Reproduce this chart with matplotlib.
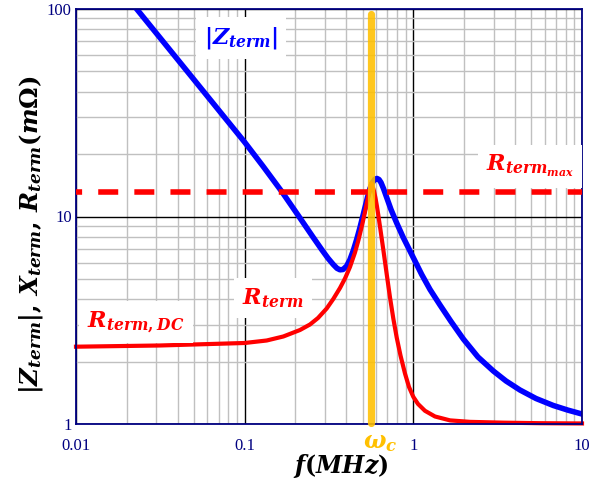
import matplotlib
matplotlib.use("Agg")
import matplotlib.pyplot as plt
from matplotlib.ticker import LogLocator, NullFormatter, FixedLocator

plt.rcParams["font.family"] = "Liberation Serif"
plt.rcParams["mathtext.fontset"] = "custom"
plt.rcParams["mathtext.rm"] = "DejaVu Serif:bold"
plt.rcParams["mathtext.it"] = "DejaVu Serif:italic:bold"
plt.rcParams["mathtext.bf"] = "DejaVu Serif:bold"

# |Z_term| (mOhm) vs f (MHz)
f_z = [0.021, 0.0229, 0.0998, 0.1284, 0.1658, 0.2079, 0.2552, 0.2874, 0.3119,
       0.3352, 0.3527, 0.3674, 0.3828, 0.4026, 0.4211, 0.4406, 0.4615, 0.4827,
       0.4995, 0.5168, 0.5348, 0.5533, 0.5725, 0.5924, 0.6088, 0.6257, 0.6430,
       0.6653, 0.6950, 0.7370, 0.7968, 0.8684, 0.9554, 1.121, 1.256, 1.439,
       1.673, 1.979, 2.417, 2.980, 3.543, 4.289, 5.336, 6.758, 8.261, 10.0]
z_mag = [109, 100, 22.86, 17.48, 13.20, 10.11, 7.921, 6.896, 6.295,
         5.871, 5.628, 5.535, 5.554, 5.774, 6.205, 6.858, 7.748, 8.851,
         9.890, 11.05, 12.35, 13.64, 14.58, 15.13, 15.25, 15.08, 14.58,
         13.64, 12.35, 10.81, 9.304, 7.965, 6.820, 5.254, 4.448, 3.746,
         3.118, 2.568, 2.103, 1.801, 1.612, 1.458, 1.327, 1.228, 1.166, 1.117]

# R_term (mOhm) vs f (MHz)
f_r = [0.01, 0.0315, 0.1, 0.1351, 0.1695, 0.2128, 0.2439, 0.2721, 0.3064,
       0.3352, 0.3674, 0.3934, 0.4211, 0.4509, 0.4729, 0.4961, 0.5168, 0.5348,
       0.5481, 0.5556, 0.5632, 0.5725, 0.5844, 0.5965, 0.6088, 0.6197, 0.6386,
       0.6635, 0.6950, 0.7273, 0.7608, 0.7968, 0.8393, 0.8924, 0.9425, 1.0,
       1.066, 1.172, 1.344, 1.650, 2.167, 3.415, 5.635, 10.0]
r_term = [2.358, 2.390, 2.457, 2.526, 2.641, 2.838, 3.017, 3.242, 3.603,
          4.003, 4.523, 5.026, 5.710, 6.707, 7.705, 9.049, 10.51, 12.01,
          13.20, 13.95, 14.47, 14.03, 13.27, 12.28, 11.17, 10.17, 8.608,
          6.934, 5.283, 4.070, 3.224, 2.612, 2.138, 1.751, 1.508, 1.351,
          1.249, 1.158, 1.087, 1.041, 1.024, 1.015, 1.009, 1.006]

r_max = 13.1      # R_term_max
w_c = 0.558       # resonance, MHz

xticks = [0.01, 0.1, 1, 10]
xticklabels = ["0.01", "0.1", "1", "10"]
yticks = [1, 10, 100]
yticklabels = ["1", "10", "100"]

navy = "#000080"
blue = "#0000FF"
red = "#FF0000"
gold = "#FFC000"

fig = plt.figure(figsize=(6.1, 4.88), dpi=100)
ax = fig.add_axes([76 / 610, 64 / 488, 506 / 610, 415 / 488])
ax.set_xscale("log")
ax.set_yscale("log")
ax.set_xlim(0.01, 10)
ax.set_ylim(1, 100)

ax.xaxis.set_major_locator(FixedLocator(xticks))
ax.yaxis.set_major_locator(FixedLocator(yticks))
ax.set_xticklabels(xticklabels)
ax.set_yticklabels(yticklabels)
ax.xaxis.set_minor_locator(LogLocator(base=10, subs=range(2, 10)))
ax.yaxis.set_minor_locator(LogLocator(base=10, subs=range(2, 10)))
ax.xaxis.set_minor_formatter(NullFormatter())
ax.yaxis.set_minor_formatter(NullFormatter())
ax.tick_params(which="both", length=0, labelsize=12, labelcolor=navy)
ax.tick_params(axis="x", pad=10)
ax.tick_params(axis="y", pad=3)

ax.set_axisbelow(True)
ax.grid(which="minor", color="#c0c0c0", lw=1.0)
ax.grid(which="major", color="black", lw=1.0)
for s in ax.spines.values():
    s.set_color(navy)
    s.set_linewidth(1.3)

ax.plot(f_z, z_mag, color=blue, lw=4.0, solid_joinstyle="round", zorder=2)
ax.plot(f_r, r_term, color=red, lw=3.0, solid_joinstyle="round", zorder=2.5,
        clip_on=False)
ax.axhline(r_max, color=red, lw=4.0, linestyle=(2.5, (3.6, 2.9)), zorder=2.7)
ax.axvline(w_c, ymin=0.003, ymax=0.989, color=gold, lw=5.2, alpha=0.88,
           solid_capstyle="round", clip_on=False, zorder=4)

box = dict(facecolor="white", edgecolor="none", pad=6)
lab = dict(fontsize=16, ha="center", va="center", bbox=box, zorder=3)
ax.text(0.0951, 72.5, r"$|Z_{term}|$", color=blue, **lab)
ax.text(4.92, 17.5, r"$R_{term_{max}}$", color=red, **lab)
ax.text(0.147, 4.05, r"$R_{term}$", color=red, **lab)
ax.text(0.0227, 3.10, r"$R_{term,DC}$", color=red, **lab)
ax.annotate(r"$\omega_c$", xy=(w_c, 0), xycoords=("data", "axes fraction"),
            xytext=(7, -14), textcoords="offset points", color=gold,
            fontsize=17, ha="center", va="center", annotation_clip=False)

fig.text(341 / 610, 1 - 466 / 488, r"$f(MHz)$", fontsize=17,
         ha="center", va="center")
fig.text(31 / 610, 1 - 235 / 488,
         r"$|Z_{term}|,\,X_{term},\,R_{term}(m\Omega)$",
         fontsize=17.5, rotation=90, ha="center", va="center")

fig.savefig("out.png", dpi=100)
